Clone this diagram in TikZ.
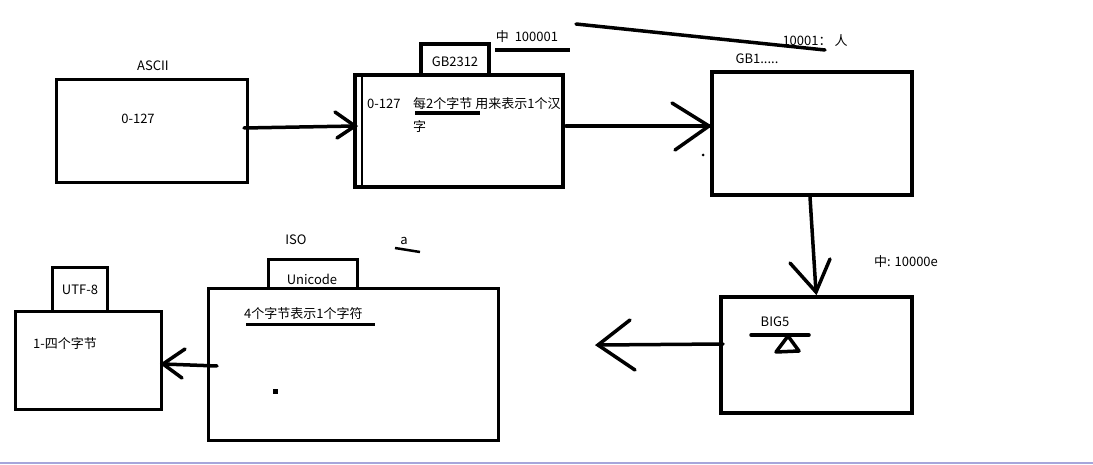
\documentclass[tikz,border=0pt]{standalone}
\usepackage{fontspec}
\setmainfont{Noto Sans CJK SC}
\begin{document}
\begin{tikzpicture}[x=1pt,y=-1pt,
  box/.style={draw=black,line width=3.5pt},
  ln/.style={line width=3.5pt,line cap=round},
  lab/.style={font=\fontsize{13}{15}\selectfont,inner sep=0pt}]
\fill[white] (0,0) rectangle (1093,465);
\useasboundingbox (0,0) rectangle (1093,465);
\draw[color=black!40!blue!35,line width=2pt] (0,463) -- (1093,463);
% ASCII
\draw[box,line width=3pt] (56,80) rectangle (247,183);
\node[lab] (tascii) at (153,66) {ASCII};
\node[lab] at (138,119) {0-127};
% GB2312
\draw[box] (355,75) rectangle (563,187);
\draw[line width=2pt] (362,77) -- (362,186);
\draw[box] (421,44) rectangle (489,75);
\node[lab] at (455,62) {GB2312};
\node[lab,anchor=west] at (367,104) {0-127};
\node[lab,anchor=west] at (413,104) {每2个字节 用来表示1个汉};
\node[lab,anchor=west] at (413,127) {字};
\draw[line width=4pt] (415,113) -- (480,113);
\node[lab] at (527,37) {中\ \ 100001};
\draw[line width=4pt] (495,50) -- (570,50);
\draw[ln] (576,24) -- (825,50);
\node[lab] at (815,41) {10001： 人};
\node[lab] at (757,59) {GB1.....};
% GB1
\draw[box,line width=4pt] (712,72) rectangle (912,195);
\fill (703,155) circle (1.5);
% arrows
\draw[ln] (244,128) -- (355,126);
\draw[ln] (335,112) -- (355,126) -- (337,138);
\draw[ln] (566,126) -- (709,126);
\draw[ln] (672,103) -- (709,126) -- (675,150);
\draw[ln] (810,197) -- (816,292);
\draw[ln] (790,263) -- (816,292) -- (830,259);
\node[lab] at (906,262) {中: 10000e};
% BIG5
\draw[box] (721,297) rectangle (912,413);
\node[lab] at (775,322) {BIG5};
\draw[ln] (751,335) -- (809,335);
\draw[ln,line join=round] (788,336) -- (776,352) -- (799,351) -- cycle;
\draw[ln] (723,344) -- (598,345);
\draw[ln] (630,320) -- (598,345) -- (635,370);
% Unicode
\node[lab] at (296,240) {ISO};
\node[lab] at (404,241) {a};
\draw[line width=2.5pt] (395,248) -- (420,252);
\draw[box,line width=3pt] (208,289) rectangle (498,440);
\draw[box,line width=3pt] (268,260) rectangle (357,289);
\node[lab] at (312,279) {Unicode};
\node[lab,anchor=west] at (244,314) {4个字节表示1个字符};
\draw[line width=3pt] (246,324) -- (375,324);
\fill (273,389) rectangle (278,394);
% UTF-8
\draw[box,line width=3pt] (15,311) rectangle (161,409);
\draw[box,line width=3pt] (52,268) rectangle (107,311);
\node[lab] at (80,290) {UTF-8};
\node[lab] at (65,344) {1-四个字节};
\draw[ln] (217,366) -- (163,364);
\draw[ln] (185,349) -- (163,364) -- (182,378);
\end{tikzpicture}
\end{document}
